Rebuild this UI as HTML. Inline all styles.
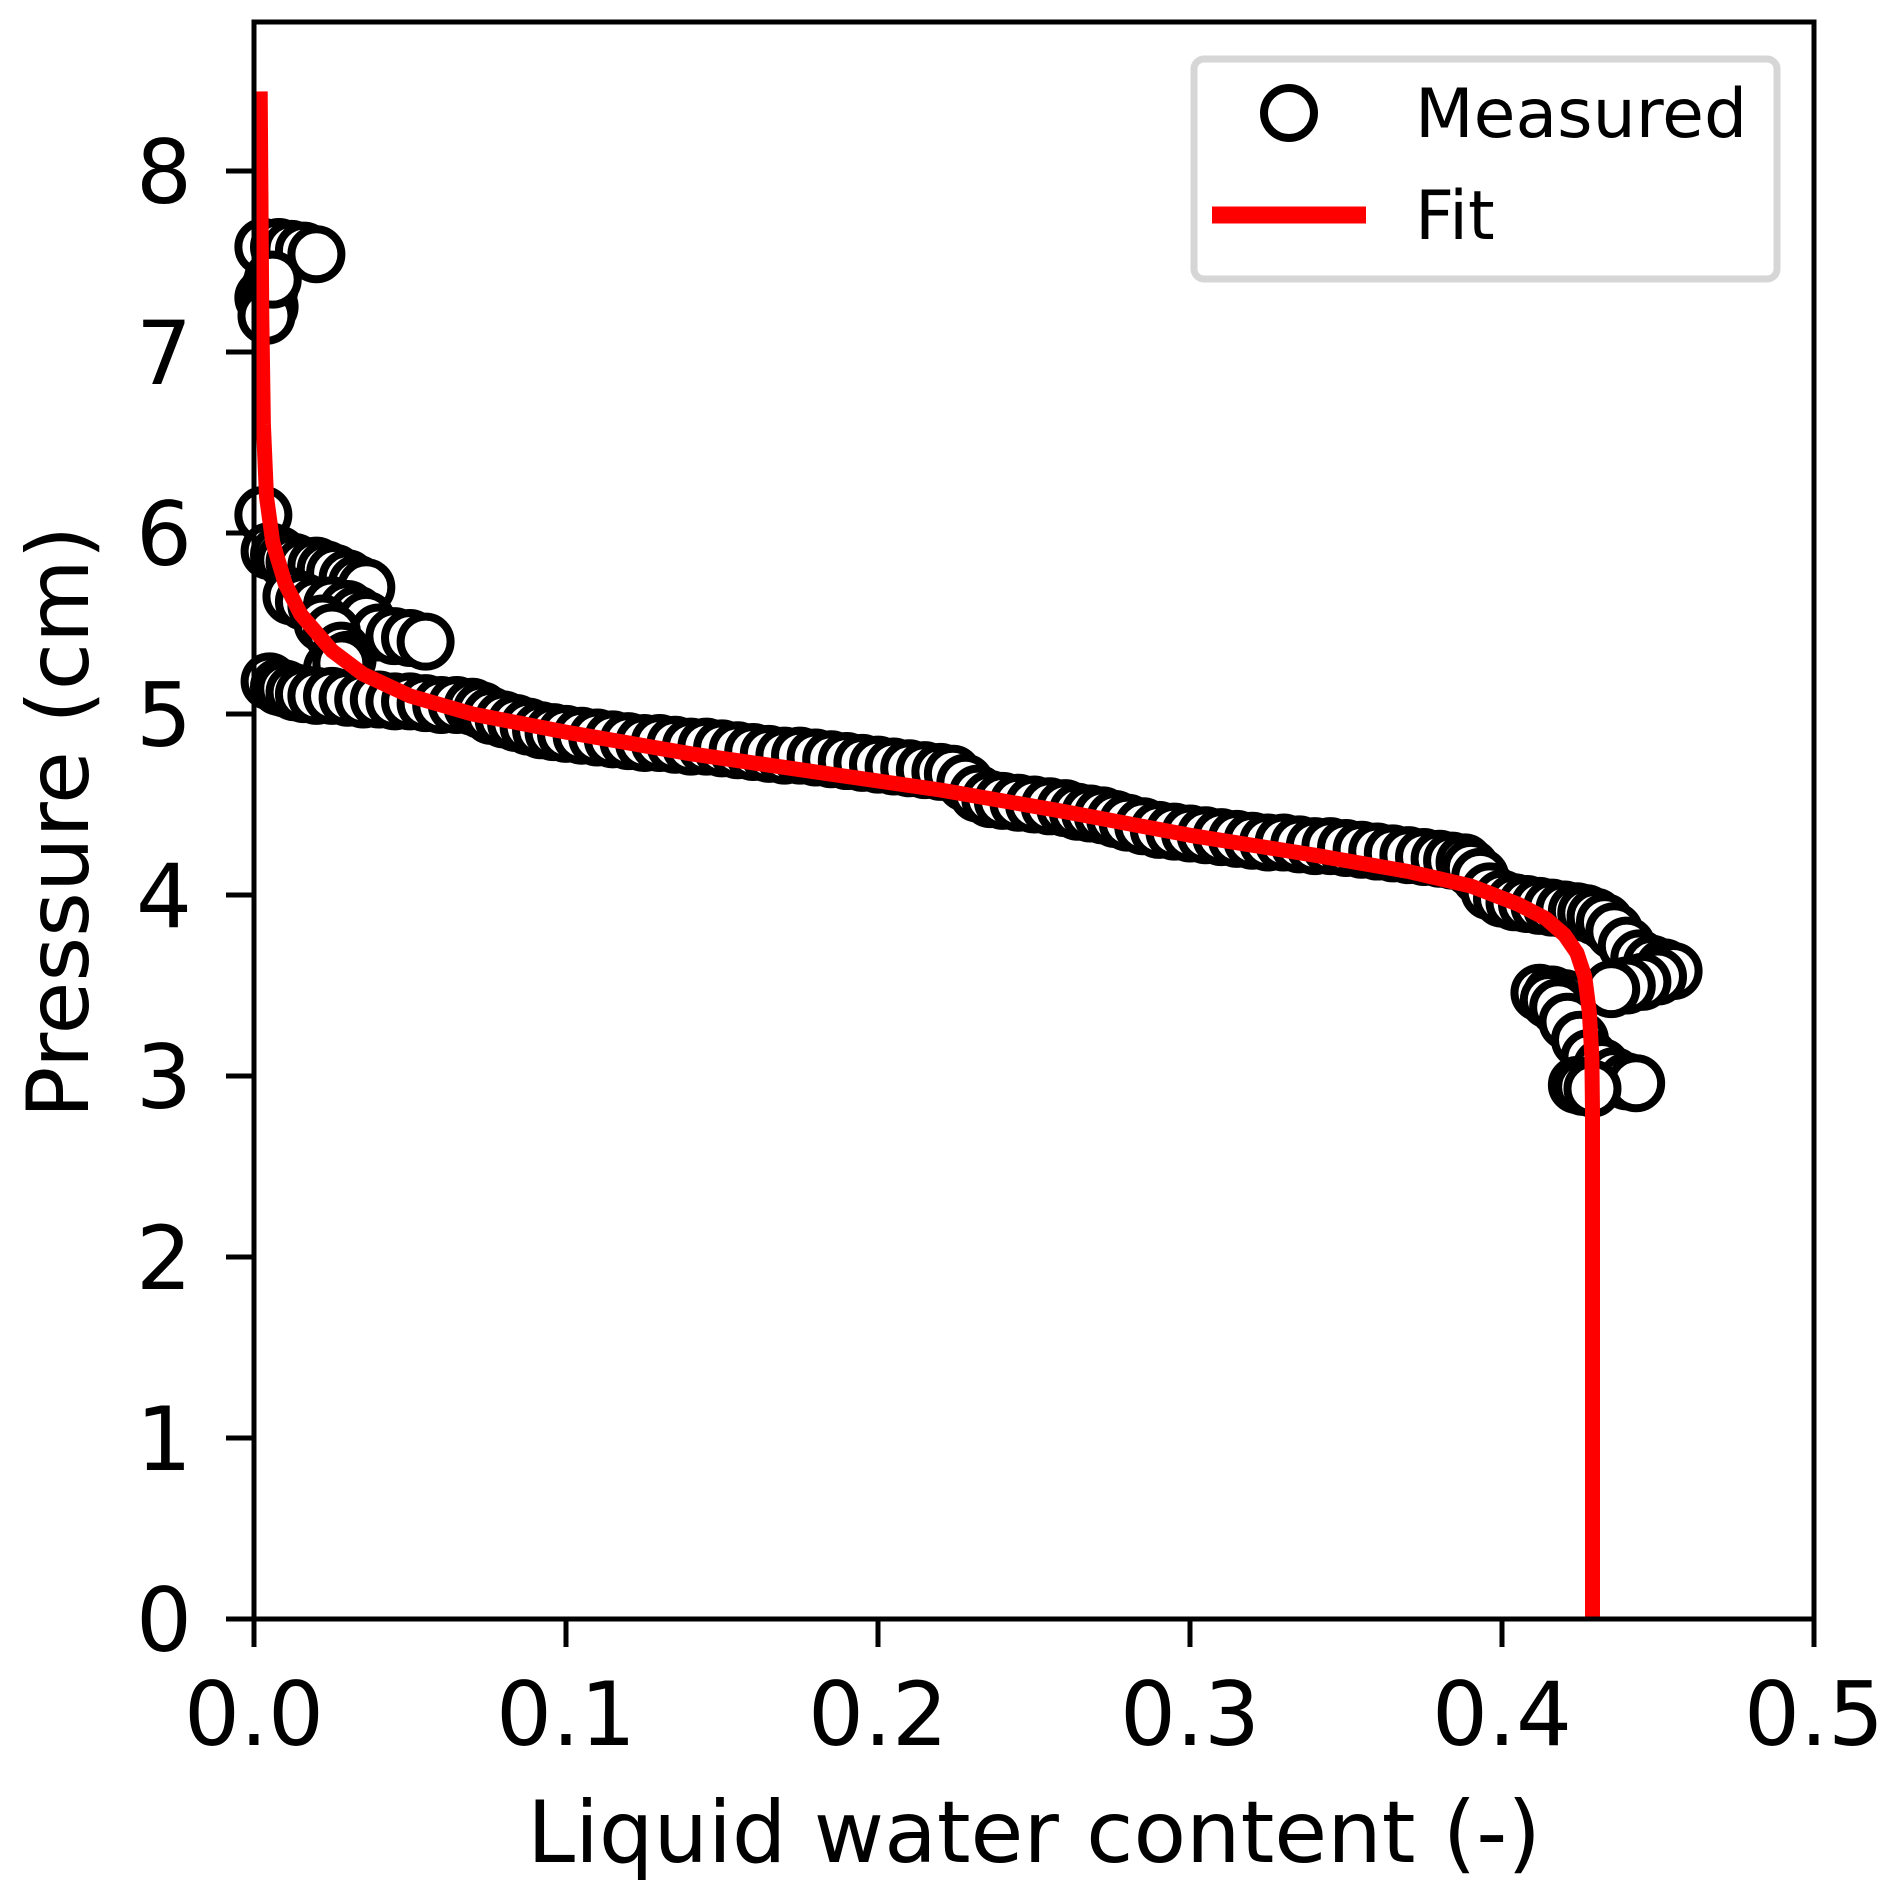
<!DOCTYPE html>
<html><head><meta charset="utf-8"><style>
html,body{margin:0;padding:0;background:#fff;}
svg{display:block;font-family:"DejaVu Sans","Liberation Sans",sans-serif;}
</style></head><body>
<svg id="chart" width="1892" height="1899" viewBox="0 0 1892 1899" xmlns="http://www.w3.org/2000/svg">
<rect width="1892" height="1899" fill="#fff"/>
<g id="plot"></g>
<g id="axes"></g>
<text x="1034" y="1862" font-size="86" text-anchor="middle">Liquid water content (-)</text>
<text transform="translate(88,822) rotate(-90)" font-size="86" text-anchor="middle">Pressure (cm)</text>
<g>
<rect x="1194" y="59" width="583" height="220" rx="10" fill="#fff" stroke="#d6d6d6" stroke-width="7"/>
<circle cx="1289" cy="113" r="25" fill="#fff" stroke="#000" stroke-width="8"/>
<text x="1415" y="137" font-size="68">Measured</text>
<line x1="1212" y1="215" x2="1366" y2="215" stroke="#f00" stroke-width="17"/>
<text x="1415" y="239" font-size="68">Fit</text>
</g>
</svg>
<script>
const measuredTheta = [0.003,0.005,0.003,0.008,0.012,0.016,0.020,0.005,0.004,0.006,
0.003,0.005,0.008,0.010,0.013,0.016,0.020,0.023,0.026,0.030,0.033,0.036,0.012,0.016,0.020,0.025,0.030,0.033,0.036,0.040,0.045,0.050,0.055,0.022,0.025,0.028,0.030,0.025,0.028,
0.005,0.008,0.010,0.013,0.016,0.020,0.025,0.030,0.035,0.040,0.045,0.050,0.055,0.060,0.065,0.070,0.073,0.076,0.080,0.084,0.088,0.092,0.096,0.100,0.105,0.110,0.115,0.120,0.125,0.130,0.135,0.140,0.145,0.150,0.155,0.160,0.165,0.170,0.175,0.180,0.185,0.190,0.195,0.200,0.205,0.210,0.215,0.220,0.224,0.228,0.232,0.236,0.240,0.245,0.250,0.255,0.260,0.264,0.268,0.272,0.276,0.280,0.285,0.290,0.295,0.300,0.305,0.310,0.315,0.320,0.325,0.330,0.335,0.340,0.345,0.350,0.355,0.360,0.365,0.370,0.375,0.380,0.384,0.388,0.390,0.393,0.396,0.400,0.404,0.408,0.412,0.416,0.420,0.424,0.427,0.430,0.433,0.436,0.440,0.444,0.448,0.452,0.455,0.450,0.445,0.440,0.435,
0.412,0.416,0.420,0.418,0.415,0.418,0.421,0.425,0.428,0.432,0.436,0.440,0.443,0.424,0.426,0.429];
const measuredP = [7.30,7.35,7.58,7.58,7.57,7.56,7.54,7.25,7.20,7.40,
6.10,5.90,5.88,5.85,5.84,5.82,5.82,5.80,5.78,5.75,5.72,5.70,5.65,5.62,5.60,5.60,5.58,5.55,5.52,5.45,5.43,5.42,5.40,5.50,5.45,5.35,5.30,5.25,5.28,
5.18,5.15,5.14,5.12,5.11,5.10,5.10,5.09,5.08,5.08,5.07,5.07,5.06,5.05,5.05,5.04,5.02,4.99,4.97,4.95,4.93,4.91,4.90,4.89,4.88,4.87,4.86,4.85,4.84,4.84,4.83,4.82,4.82,4.81,4.80,4.79,4.78,4.77,4.77,4.76,4.75,4.74,4.73,4.72,4.71,4.70,4.69,4.68,4.67,4.62,4.56,4.53,4.52,4.51,4.50,4.49,4.48,4.46,4.45,4.44,4.42,4.40,4.38,4.36,4.35,4.34,4.33,4.32,4.31,4.30,4.29,4.29,4.28,4.27,4.27,4.26,4.25,4.24,4.23,4.22,4.21,4.20,4.19,4.18,4.15,4.10,4.02,3.98,3.96,3.95,3.94,3.93,3.92,3.91,3.90,3.88,3.85,3.80,3.72,3.65,3.62,3.60,3.58,3.55,3.52,3.50,3.48,3.46,3.45,3.43,
3.40,3.42,3.38,3.30,3.20,3.10,3.05,3.00,2.97,2.96,2.95,2.94,2.93,3.25,3.15,3.45];
const fitTheta = [0.429,0.429,0.4288,0.428,0.4265,0.424,0.420,0.414,0.405,0.390,0.370,0.340,0.300,0.260,0.220,0.180,0.140,0.100,0.070,0.050,0.035,0.025,0.015,0.010,0.006,0.004,0.003,0.0025,0.002];
const fitP = [0,2.8,3.1,3.35,3.55,3.68,3.78,3.87,3.95,4.05,4.13,4.22,4.33,4.46,4.58,4.68,4.78,4.90,5.00,5.10,5.22,5.35,5.55,5.72,5.95,6.20,6.60,7.20,8.44];
const xTicks = [0.0,0.1,0.2,0.3,0.4,0.5];
const xTickLabels = ["0.0","0.1","0.2","0.3","0.4","0.5"];
const yTicks = [0,1,2,3,4,5,6,7,8];
const yTickLabels = ["0","1","2","3","4","5","6","7","8"];

const NS="http://www.w3.org/2000/svg";
const L=254,R=1814,T=22,B=1619,XMAX=0.5,YMAX=(B-T)/181;
function sx(v){return L+(v/XMAX)*(R-L);}
function sy(v){return B-(v/YMAX)*(B-T);}
function mk(tag,attrs,parent){const e=document.createElementNS(NS,tag);for(const k in attrs)e.setAttribute(k,attrs[k]);parent.appendChild(e);return e;}
const plot=document.getElementById('plot'),axes=document.getElementById('axes');

for(let i=0;i<measuredTheta.length;i++){
  const c=mk('circle',{cx:sx(measuredTheta[i]),cy:sy(measuredP[i]),r:25,fill:'#fff',stroke:'#000','stroke-width':8},plot);
  
  
}
let d='';
for(let i=0;i<fitTheta.length;i++){d+=(i?'L':'M')+sx(fitTheta[i]).toFixed(1)+','+sy(fitP[i]).toFixed(1);}
const fl=mk('path',{d:d,fill:'none',stroke:'#f00','stroke-width':15,'stroke-linejoin':'round'},plot);



const fr=mk('rect',{x:L,y:T,width:R-L,height:B-T,fill:'none',stroke:'#000','stroke-width':5},axes);


xTicks.forEach((v,i)=>{
  const t=mk('line',{x1:sx(v),y1:B,x2:sx(v),y2:B+28,stroke:'#000','stroke-width':5},axes);
  
  
  const tx=mk('text',{x:sx(v),y:1745,'font-size':88,'text-anchor':'middle'},axes);
  tx.textContent=xTickLabels[i];
  
  
});
yTicks.forEach((v,i)=>{
  const t=mk('line',{x1:L-28,y1:sy(v),x2:L,y2:sy(v),stroke:'#000','stroke-width':5},axes);
  
  
  const tx=mk('text',{x:192,y:sy(v)+32,'font-size':88,'text-anchor':'end'},axes);
  tx.textContent=yTickLabels[i];
  
  
});
</script>
</body></html>
